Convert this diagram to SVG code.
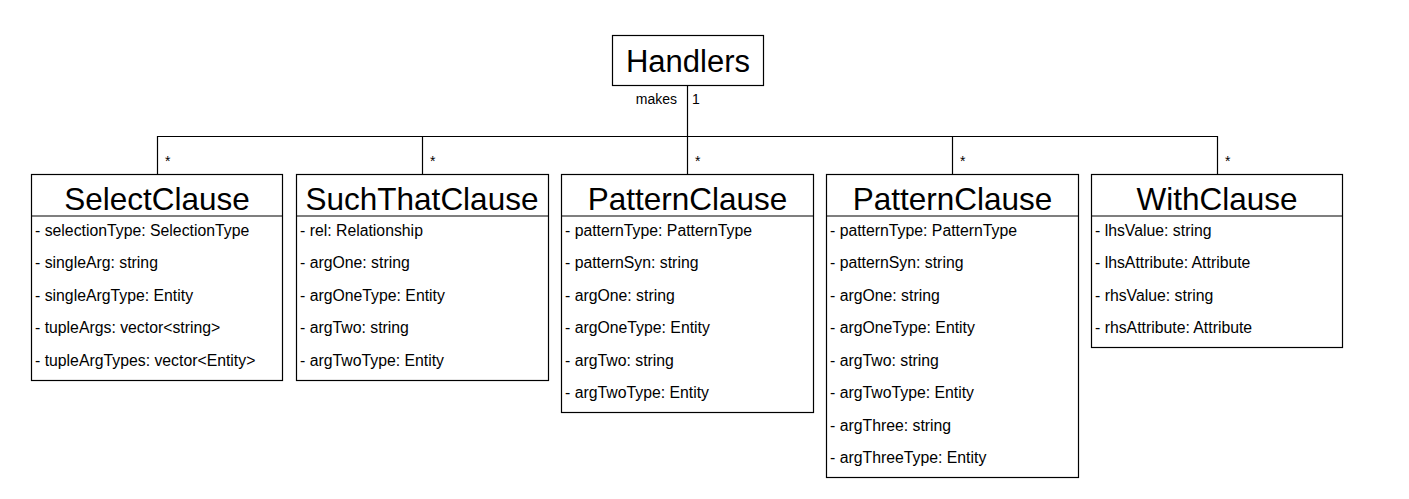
<svg xmlns="http://www.w3.org/2000/svg" width="1409" height="499" viewBox="0 0 1409 499">
<style>
.box{fill:#fff;stroke:#000;stroke-width:1.2}
.sep{stroke:#000;stroke-width:1.2}
.title{font-family:"Liberation Sans",Arial,sans-serif;font-size:31.5px;text-anchor:middle;fill:#000}
.attr{font-family:"Liberation Sans",Arial,sans-serif;font-size:15.8px;fill:#000}
.lbl{font-family:"Liberation Sans",Arial,sans-serif;font-size:14px;fill:#000}
.conn{fill:none;stroke:#000;stroke-width:1.2}
</style>
<rect width="1409" height="499" fill="#fff"/>
<g id="connectors">
<path class="conn" d="M687.5 85 V136.5"/>
<path class="conn" d="M157.5 174 V136.5 H1217.5 V174"/>
<path class="conn" d="M422.5 136.5 V174"/>
<path class="conn" d="M687.5 136.5 V174"/>
<path class="conn" d="M952.5 136.5 V174"/>
<text class="lbl" x="677" y="104" text-anchor="end">makes</text>
<text class="lbl" x="692" y="104">1</text>
<text class="lbl" x="165" y="166">*</text>
<text class="lbl" x="430" y="166">*</text>
<text class="lbl" x="695" y="166">*</text>
<text class="lbl" x="960" y="166">*</text>
<text class="lbl" x="1225" y="166">*</text>
</g>
<g id="handlers">
<rect class="box" x="612.5" y="35.5" width="151" height="50"/>
<text class="title" x="688" y="72" style="font-size:31px">Handlers</text>
</g>
<g id="selectClause">
<rect class="box" x="31.5" y="174.5" width="251" height="206"/>
<line class="sep" x1="31.5" y1="216" x2="282.5" y2="216"/>
<text class="title" x="157" y="210">SelectClause</text>
<text class="attr" x="35" y="235.5">- selectionType: SelectionType</text>
<text class="attr" x="35" y="268">- singleArg: string</text>
<text class="attr" x="35" y="300.5">- singleArgType: Entity</text>
<text class="attr" x="35" y="333">- tupleArgs: vector&lt;string&gt;</text>
<text class="attr" x="35" y="365.5">- tupleArgTypes: vector&lt;Entity&gt;</text>
</g>
<g id="suchThatClause">
<rect class="box" x="296.5" y="174.5" width="252" height="206"/>
<line class="sep" x1="296.5" y1="216" x2="548.5" y2="216"/>
<text class="title" x="422" y="210">SuchThatClause</text>
<text class="attr" x="300" y="235.5">- rel: Relationship</text>
<text class="attr" x="300" y="268">- argOne: string</text>
<text class="attr" x="300" y="300.5">- argOneType: Entity</text>
<text class="attr" x="300" y="333">- argTwo: string</text>
<text class="attr" x="300" y="365.5">- argTwoType: Entity</text>
</g>
<g id="patternClause1">
<rect class="box" x="561.5" y="174.5" width="252" height="238"/>
<line class="sep" x1="561.5" y1="216" x2="813.5" y2="216"/>
<text class="title" x="687.5" y="210">PatternClause</text>
<text class="attr" x="565" y="235.5">- patternType: PatternType</text>
<text class="attr" x="565" y="268">- patternSyn: string</text>
<text class="attr" x="565" y="300.5">- argOne: string</text>
<text class="attr" x="565" y="333">- argOneType: Entity</text>
<text class="attr" x="565" y="365.5">- argTwo: string</text>
<text class="attr" x="565" y="398">- argTwoType: Entity</text>
</g>
<g id="patternClause2">
<rect class="box" x="826.5" y="174.5" width="252" height="303"/>
<line class="sep" x1="826.5" y1="216" x2="1078.5" y2="216"/>
<text class="title" x="952.5" y="210">PatternClause</text>
<text class="attr" x="830" y="235.5">- patternType: PatternType</text>
<text class="attr" x="830" y="268">- patternSyn: string</text>
<text class="attr" x="830" y="300.5">- argOne: string</text>
<text class="attr" x="830" y="333">- argOneType: Entity</text>
<text class="attr" x="830" y="365.5">- argTwo: string</text>
<text class="attr" x="830" y="398">- argTwoType: Entity</text>
<text class="attr" x="830" y="430.5">- argThree: string</text>
<text class="attr" x="830" y="463">- argThreeType: Entity</text>
</g>
<g id="withClause">
<rect class="box" x="1091.5" y="174.5" width="251" height="173"/>
<line class="sep" x1="1091.5" y1="216" x2="1342.5" y2="216"/>
<text class="title" x="1217" y="210">WithClause</text>
<text class="attr" x="1095" y="235.5">- lhsValue: string</text>
<text class="attr" x="1095" y="268">- lhsAttribute: Attribute</text>
<text class="attr" x="1095" y="300.5">- rhsValue: string</text>
<text class="attr" x="1095" y="333">- rhsAttribute: Attribute</text>
</g>
</svg>
